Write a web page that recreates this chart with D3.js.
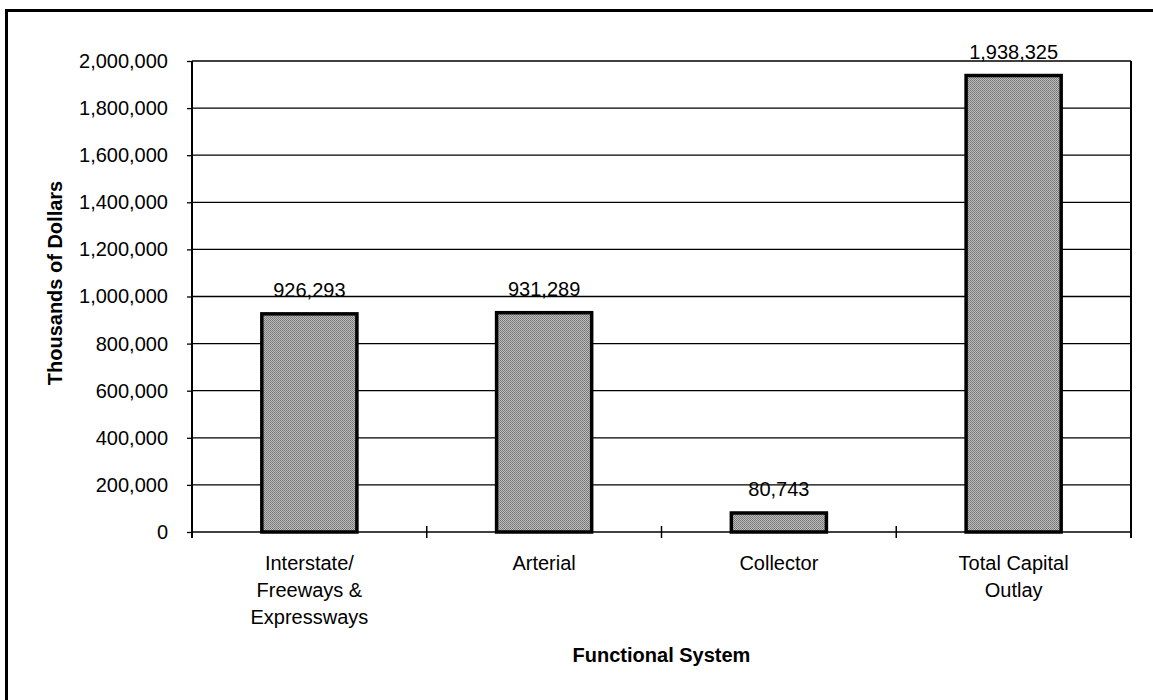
<!DOCTYPE html>
<html>
<head>
<meta charset="utf-8">
<script src="https://cdn.jsdelivr.net/npm/d3@7"></script>
<style>
  html, body { margin: 0; padding: 0; background: #fff; }
  svg { display: block; }
  text { font-family: "Liberation Sans", Arial, sans-serif; fill: #000; }
</style>
</head>
<body>
<svg id="chart" width="1153" height="700"></svg>
<script>
// ---- data ----
const categories = ["Interstate/ Freeways & Expressways", "Arterial", "Collector", "Total Capital Outlay"];
const categoryLines = [["Interstate/", "Freeways &", "Expressways"], ["Arterial"], ["Collector"], ["Total Capital", "Outlay"]];
const values = [926293, 931289, 80743, 1938325];
const yTicks = [0, 200000, 400000, 600000, 800000, 1000000, 1200000, 1400000, 1600000, 1800000, 2000000];
const yTitle = "Thousands of Dollars";
const xTitle = "Functional System";

// ---- layout ----
const M = { left: 192, right: 1131, top: 61, bottom: 532 };
const svg = d3.select("#chart");

// pattern for stippled bar fill
const defs = svg.append("defs");
const pat = defs.append("pattern").attr("id", "stipple")
  .attr("patternUnits", "userSpaceOnUse").attr("width", 2).attr("height", 2);
pat.append("rect").attr("width", 2).attr("height", 2).attr("fill", "#bdbdbd");
pat.append("rect").attr("width", 1).attr("height", 1).attr("fill", "#747474");
pat.append("rect").attr("x", 1).attr("y", 1).attr("width", 1).attr("height", 1).attr("fill", "#808080");

// outer frame
svg.append("rect").attr("x", 6.5).attr("y", 10.5).attr("width", 1200).attr("height", 760)
  .attr("fill", "none").attr("stroke", "#000").attr("stroke-width", 3);

const x = d3.scaleBand().domain(categories).range([M.left, M.right]).padding(0);
const y = d3.scaleLinear().domain([0, 2000000]).range([M.bottom, M.top]);
const barW = x.bandwidth() * 0.405;

// gridlines
svg.append("g").selectAll("line").data(yTicks.filter(d => d > 0)).join("line")
  .attr("x1", M.left).attr("x2", M.right)
  .attr("y1", d => y(d)).attr("y2", d => y(d))
  .attr("stroke", "#000").attr("stroke-width", 1.3);

// y axis
const yAxis = svg.append("g").attr("transform", `translate(${M.left},0)`)
  .call(d3.axisLeft(y).tickValues(yTicks).tickFormat(d3.format(",")).tickSize(5).tickPadding(19));
yAxis.select(".domain").remove();
yAxis.selectAll(".tick line").attr("stroke", "#000").attr("stroke-width", 1.3);
yAxis.selectAll(".tick text").style("font-size", "20px").style("font-family", "'Liberation Sans', Arial, sans-serif").attr("fill", "#000");

// left axis line & right plot border
svg.append("line").attr("x1", M.left).attr("x2", M.left).attr("y1", M.top).attr("y2", M.bottom + 6)
  .attr("stroke", "#000").attr("stroke-width", 2);
svg.append("line").attr("x1", M.right).attr("x2", M.right).attr("y1", M.top).attr("y2", M.bottom + 6)
  .attr("stroke", "#000").attr("stroke-width", 2);

// bars
svg.append("g").selectAll("rect").data(categories).join("rect")
  .attr("x", d => x(d) + (x.bandwidth() - barW) / 2)
  .attr("width", barW)
  .attr("y", (d, i) => y(values[i]))
  .attr("height", (d, i) => y(0) - y(values[i]))
  .attr("fill", "url(#stipple)")
  .attr("stroke", "#000").attr("stroke-width", 3.5);

// x axis line
svg.append("line").attr("x1", M.left).attr("x2", M.right).attr("y1", M.bottom).attr("y2", M.bottom)
  .attr("stroke", "#000").attr("stroke-width", 1.6);
// category boundary ticks
svg.append("g").selectAll("line").data(categories.slice(1)).join("line")
  .attr("x1", d => x(d)).attr("x2", d => x(d))
  .attr("y1", M.bottom - 6).attr("y2", M.bottom + 6)
  .attr("stroke", "#000").attr("stroke-width", 1.5);

// value labels
const fmt = d3.format(",");
svg.append("g").selectAll("text").data(categories).join("text")
  .attr("x", d => x(d) + x.bandwidth() / 2)
  .attr("y", (d, i) => y(values[i]) - 17)
  .attr("text-anchor", "middle")
  .style("font-size", "20px")
  .text((d, i) => fmt(values[i]));

// category labels
const catG = svg.append("g").selectAll("text").data(categories).join("text")
  .attr("text-anchor", "middle")
  .style("font-size", "20px");
catG.each(function(d, i) {
  const t = d3.select(this);
  categoryLines[i].forEach((ln, j) => {
    t.append("tspan").attr("x", x(d) + x.bandwidth() / 2).attr("y", 570 + j * 27).text(ln);
  });
});

// axis titles
svg.append("text").attr("x", (M.left + M.right) / 2).attr("y", 662)
  .attr("text-anchor", "middle").style("font-size", "20px").style("font-weight", "bold")
  .text(xTitle);
svg.append("text").attr("transform", "translate(62,283) rotate(-90)")
  .attr("text-anchor", "middle").style("font-size", "20px").style("font-weight", "bold")
  .text(yTitle);
</script>
</body>
</html>
